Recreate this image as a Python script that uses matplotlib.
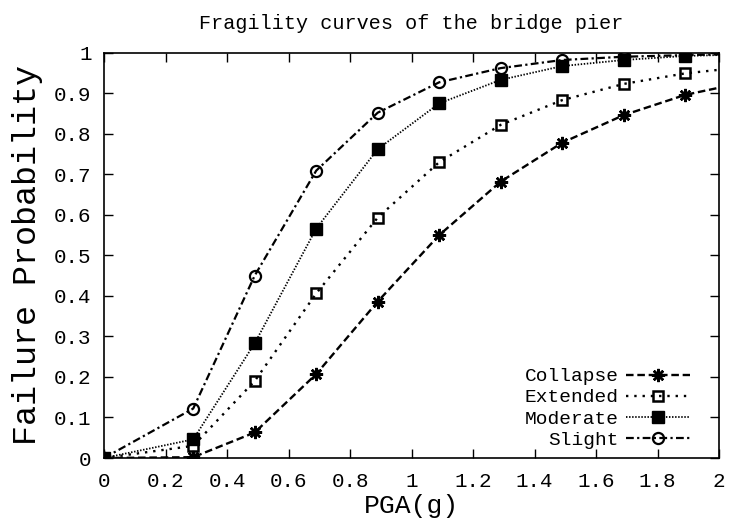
import numpy as np
import matplotlib.pyplot as plt

plt.rcParams['font.family'] = ['Liberation Mono', 'DejaVu Sans Mono']

# PGA (g) at each analysis point; the last one lies past the axis edge and is clipped
pga = [0.0, 0.29, 0.49, 0.69, 0.89, 1.09, 1.29, 1.49, 1.69, 1.89, 2.09]
collapse = [0.0, 0.002, 0.063, 0.207, 0.386, 0.550, 0.682, 0.778, 0.846, 0.896, 0.928]
extended = [0.0, 0.030, 0.190, 0.406, 0.593, 0.730, 0.822, 0.883, 0.923, 0.949, 0.965]
moderate = [0.0, 0.046, 0.283, 0.566, 0.762, 0.875, 0.933, 0.967, 0.982, 0.992, 0.996]
slight = [0.0, 0.122, 0.450, 0.709, 0.852, 0.927, 0.962, 0.982, 0.990, 0.994, 0.997]

xticks = [0, 0.2, 0.4, 0.6, 0.8, 1, 1.2, 1.4, 1.6, 1.8, 2]
xlabels = ['0', '0.2', '0.4', '0.6', '0.8', '1', '1.2', '1.4', '1.6', '1.8', '2']
yticks = [0, 0.1, 0.2, 0.3, 0.4, 0.5, 0.6, 0.7, 0.8, 0.9, 1]
ylabels = ['0', '0.1', '0.2', '0.3', '0.4', '0.5', '0.6', '0.7', '0.8', '0.9', '1']

fig = plt.figure(figsize=(7.33, 5.27), dpi=100)
ax = fig.add_axes([0.1419, 0.1309, 0.8391, 0.7691])

ax.plot(pga, collapse, color='black', linewidth=1.7, linestyle=(0, (3.2, 1.6)),
        marker=(8, 2, 0), markersize=9.5, markeredgewidth=1.8, label='Collapse')
ax.plot(pga, extended, color='black', linewidth=1.7, linestyle=(0, (1, 2.5)),
        marker='s', markersize=7.5, markerfacecolor='none', markeredgewidth=1.8,
        label='Extended')
ax.plot(pga, moderate, color='black', linewidth=1.3, linestyle=(0, (0.8, 0.9)),
        marker='s', markersize=8, markerfacecolor='black', markeredgewidth=1.0,
        label='Moderate')
ax.plot(pga, slight, color='black', linewidth=1.6, linestyle=(0, (3.5, 1.5, 1, 1.5)),
        marker='o', markersize=8, markerfacecolor='none', markeredgewidth=1.6,
        label='Slight')

ax.set_xlim(0, 2)
ax.set_ylim(0, 1)
ax.set_xticks(xticks, xlabels)
ax.set_yticks(yticks, ylabels)
ax.tick_params(direction='in', length=6.5, width=1, top=True, right=True,
               labelsize=15, pad=10)
ax.tick_params(axis='y', pad=9)
for s in ax.spines.values():
    s.set_linewidth(1.2)

ax.set_title('Fragility curves of the bridge pier', fontsize=14.5, pad=17)
ax.set_xlabel('PGA(g)', fontsize=19, labelpad=2)
ax.set_ylabel('Failure Probability', fontsize=24, labelpad=8)

ax.legend(loc='lower right', markerfirst=False, frameon=False, fontsize=14,
          handlelength=3.3, handletextpad=0.4, labelspacing=0.18,
          borderaxespad=0.6, bbox_to_anchor=(0.985, -0.025))

fig.savefig('out.png', dpi=100)
